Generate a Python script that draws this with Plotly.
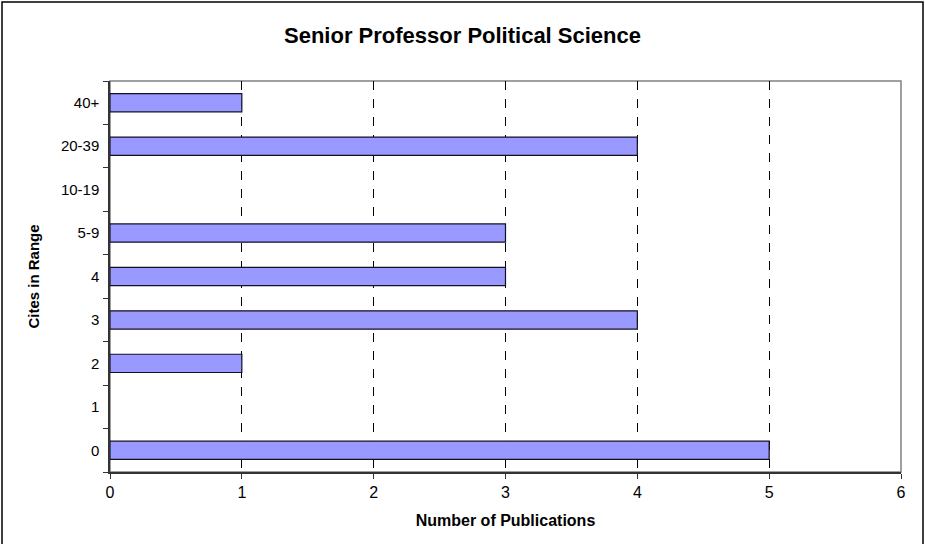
import plotly.graph_objects as go

categories = ["0", "1", "2", "3", "4", "5-9", "10-19", "20-39", "40+"]
publications = [5, 0, 1, 4, 3, 3, 0, 4, 1]
x_ticks = [0, 1, 2, 3, 4, 5, 6]

W, H = 925, 544
ml, mr, mt, mb = 110, 24, 81, 72
pw, ph = W - ml - mr, H - mt - mb

outline_widths = [0 if v == 0 else 1.2 for v in publications]

fig = go.Figure()
fig.add_trace(go.Bar(
    y=categories, x=publications, orientation="h",
    marker=dict(color="#9999FF", line=dict(color="#111122", width=outline_widths)),
    width=0.42,
))

fig.update_layout(
    width=W, height=H,
    margin=dict(l=ml, r=mr, t=mt, b=mb),
    paper_bgcolor="white", plot_bgcolor="white",
    font=dict(family="Liberation Sans, Arial, sans-serif", color="black", size=14),
    showlegend=False,
    title=dict(text="<b>Senior Professor Political Science</b>", x=0.5,
               xref="container", xanchor="center",
               y=1 - 35 / H, yanchor="middle", font=dict(size=22)),
    xaxis=dict(
        range=[0, 6], tickvals=x_ticks, showgrid=True, gridcolor="black", griddash="dash",
        gridwidth=1, zeroline=False, showline=True, linecolor="#333333", linewidth=1.5,
        ticks="outside", ticklen=5, tickcolor="#333333",
        title=dict(text="<b>Number of Publications</b>", font=dict(size=16), standoff=15),
        tickfont=dict(size=16),
    ),
    yaxis=dict(
        type="category", categoryorder="array", categoryarray=categories,
        showgrid=False, showline=True, linecolor="#333333", linewidth=1.5,
        ticks="outside", ticklen=5, tickcolor="#333333", tickson="boundaries",
        ticklabelstandoff=6,
        title=dict(text="<b>Cites in Range</b>", font=dict(size=15), standoff=18),
        tickfont=dict(size=15),
    ),
    shapes=[
        dict(type="rect", xref="paper", yref="paper", x0=0, x1=1, y0=0, y1=1,
             line=dict(color="#808080", width=1.5), layer="below"),
        dict(type="rect", xref="paper", yref="paper",
             x0=-(ml - 2) / pw, x1=1 + (mr - 2) / pw,
             y0=-(mb + 10) / ph, y1=1 + (mt - 2) / ph,
             line=dict(color="black", width=1.5)),
    ],
)

fig.write_html("out.html", config={"displayModeBar": False},
               post_script="document.body.style.margin='0';document.body.style.padding='0';")
